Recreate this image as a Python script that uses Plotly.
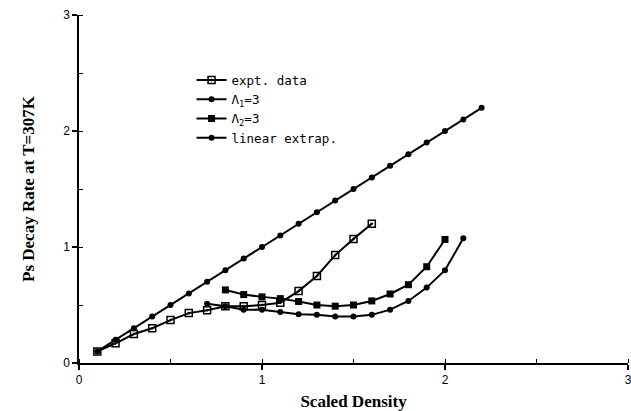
import plotly.graph_objects as go

# Scaled density values for each series
x_expt = [0.1, 0.2, 0.3, 0.4, 0.5, 0.6, 0.7, 0.8, 0.9, 1.0, 1.1, 1.2, 1.3, 1.4, 1.5, 1.6]
y_expt = [0.10, 0.17, 0.25, 0.30, 0.37, 0.43, 0.455, 0.49, 0.49, 0.50, 0.52, 0.62, 0.75, 0.93, 1.07, 1.20]

x_lam1 = [0.7, 0.8, 0.9, 1.0, 1.1, 1.2, 1.3, 1.4, 1.5, 1.6, 1.7, 1.8, 1.9, 2.0, 2.1]
y_lam1 = [0.51, 0.49, 0.46, 0.46, 0.44, 0.42, 0.415, 0.40, 0.40, 0.415, 0.46, 0.535, 0.65, 0.80, 1.075]

x_lam2 = [0.8, 0.9, 1.0, 1.1, 1.2, 1.3, 1.4, 1.5, 1.6, 1.7, 1.8, 1.9, 2.0]
y_lam2 = [0.63, 0.59, 0.57, 0.555, 0.53, 0.50, 0.49, 0.50, 0.535, 0.595, 0.675, 0.83, 1.065]

x_lin = [0.1, 0.2, 0.3, 0.4, 0.5, 0.6, 0.7, 0.8, 0.9, 1.0, 1.1,
         1.2, 1.3, 1.4, 1.5, 1.6, 1.7, 1.8, 1.9, 2.0, 2.1, 2.2]
y_lin = [0.1, 0.2, 0.3, 0.4, 0.5, 0.6, 0.7, 0.8, 0.9, 1.0, 1.1,
         1.2, 1.3, 1.4, 1.5, 1.6, 1.7, 1.8, 1.9, 2.0, 2.1, 2.2]

tick_vals = [0, 1, 2, 3]
tick_text = ["0", "1", "2", "3"]

line = dict(color="black", width=2)

fig = go.Figure()
fig.add_trace(go.Scatter(
    x=x_expt, y=y_expt, mode="lines+markers", name="expt. data", line=line,
    marker=dict(symbol="square-open-dot", size=7, color="black", line=dict(width=1.5)),
))
fig.add_trace(go.Scatter(
    x=x_lam1, y=y_lam1, mode="lines+markers", name="Λ<sub>1</sub>=3", line=line,
    marker=dict(symbol="circle", size=6, color="black"),
))
fig.add_trace(go.Scatter(
    x=x_lam2, y=y_lam2, mode="lines+markers", name="Λ<sub>2</sub>=3", line=line,
    marker=dict(symbol="square", size=7, color="black"),
))
fig.add_trace(go.Scatter(
    x=x_lin, y=y_lin, mode="lines+markers", name="linear extrap.", line=line,
    marker=dict(symbol="circle", size=6, color="black"),
))

axis_common = dict(
    tickvals=tick_vals, ticktext=tick_text,
    showgrid=False, zeroline=False, showline=True, linecolor="black", linewidth=1.5,
    ticks="outside", ticklen=5, tickwidth=1.5, tickcolor="black",
    ticklabeloverflow="allow", automargin=False,
    minor=dict(ticks="inside", ticklen=4, tickwidth=1, tickcolor="black", dtick=0.5),
    tickfont=dict(family="Liberation Sans, Arial, sans-serif", size=12, color="black"),
)

fig.update_xaxes(
    range=[0, 3], **axis_common,
    title=dict(text="<b>Scaled Density</b>", standoff=10,
               font=dict(family="Liberation Serif, Times New Roman, serif", size=17, color="black")),
)
fig.update_yaxes(
    range=[0, 3], **axis_common,
    title=dict(text="<b>Ps Decay Rate at T=307K</b>", standoff=24,
               font=dict(family="Liberation Serif, Times New Roman, serif", size=17, color="black")),
)

fig.update_layout(
    width=631, height=411,
    margin=dict(l=79, r=3, t=15, b=48),
    paper_bgcolor="white", plot_bgcolor="white",
    showlegend=True,
    legend=dict(
        x=0.205, y=0.855, xanchor="left", yanchor="top",
        font=dict(family="DejaVu Sans Mono, monospace", size=12.5, color="black"),
        bgcolor="rgba(0,0,0,0)", tracegroupgap=0, itemwidth=30,
    ),
)

fig.write_html("out.html")
